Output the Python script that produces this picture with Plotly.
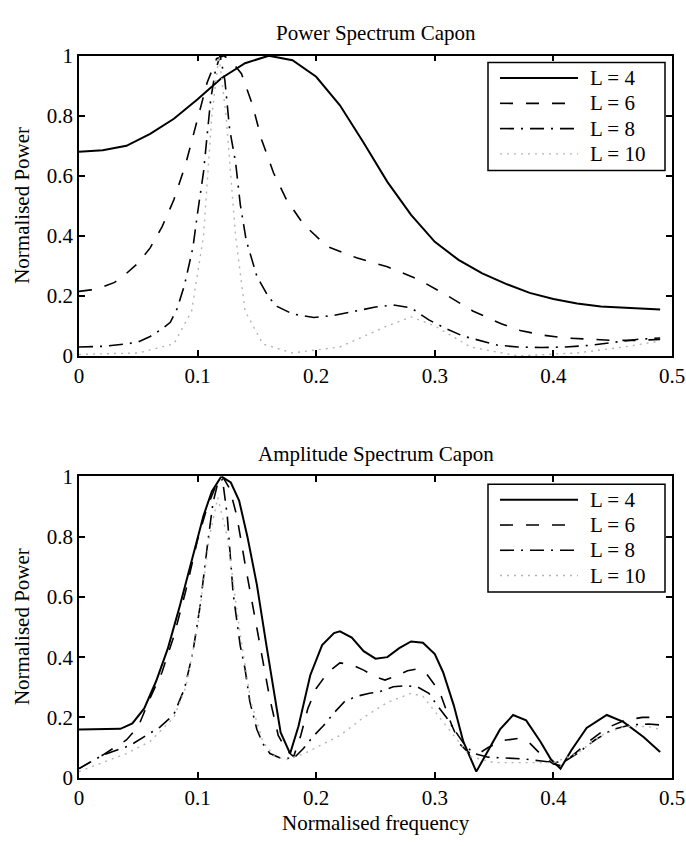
import plotly.graph_objects as go

# ---- data (normalised frequency vs normalised power) ----
# Power spectrum (top)
f_pow_l4 = [0, 0.02, 0.04, 0.06, 0.08, 0.10, 0.12, 0.14, 0.16, 0.18, 0.20, 0.22, 0.24,
            0.26, 0.28, 0.30, 0.32, 0.34, 0.36, 0.38, 0.40, 0.42, 0.44, 0.46, 0.49]
pow_l4 = [0.68, 0.685, 0.70, 0.74, 0.79, 0.855, 0.925, 0.975, 1.0, 0.985, 0.93, 0.835, 0.71,
          0.58, 0.47, 0.38, 0.32, 0.275, 0.24, 0.21, 0.19, 0.175, 0.165, 0.16, 0.155]

f_pow_l6 = [0, 0.01, 0.02, 0.03, 0.04, 0.05, 0.06, 0.07, 0.08, 0.09, 0.10, 0.108, 0.116,
            0.122, 0.128, 0.137, 0.146, 0.154, 0.164, 0.175, 0.189, 0.209, 0.234, 0.26,
            0.285, 0.309, 0.332, 0.356, 0.372, 0.39, 0.41, 0.43, 0.45, 0.47, 0.49]
pow_l6 = [0.215, 0.22, 0.23, 0.245, 0.275, 0.31, 0.36, 0.43, 0.52, 0.64, 0.79, 0.91, 0.99,
          1.0, 0.985, 0.94, 0.84, 0.72, 0.61, 0.52, 0.44, 0.365, 0.327, 0.297,
          0.257, 0.205, 0.15, 0.107, 0.085, 0.07, 0.06, 0.055, 0.052, 0.052, 0.055]

f_pow_l8 = [0, 0.02, 0.04, 0.05, 0.06, 0.07, 0.077, 0.083, 0.089, 0.096, 0.10, 0.105, 0.108,
            0.111, 0.115, 0.119, 0.123, 0.127, 0.132, 0.136, 0.141, 0.15, 0.16, 0.167, 0.18,
            0.198, 0.215, 0.234, 0.25, 0.265, 0.28, 0.295, 0.31, 0.324, 0.34, 0.353, 0.37,
            0.39, 0.41, 0.43, 0.45, 0.47, 0.49]
pow_l8 = [0.03, 0.032, 0.04, 0.047, 0.065, 0.09, 0.112, 0.16, 0.237, 0.36, 0.477, 0.613, 0.733,
          0.853, 0.95, 1.0, 0.918, 0.755, 0.646, 0.504, 0.385, 0.265, 0.195, 0.165, 0.14,
          0.128, 0.135, 0.15, 0.163, 0.17, 0.16, 0.12, 0.09, 0.066, 0.048, 0.036, 0.03,
          0.028, 0.03, 0.035, 0.045, 0.055, 0.06]

f_pow_l10 = [0, 0.05, 0.08, 0.095, 0.105, 0.112, 0.118, 0.124, 0.132, 0.14, 0.155, 0.18,
             0.22, 0.26, 0.28, 0.30, 0.33, 0.37, 0.42, 0.46, 0.49]
pow_l10 = [0.005, 0.01, 0.04, 0.15, 0.4, 0.8, 1.0, 0.8, 0.4, 0.15, 0.04, 0.01,
           0.03, 0.1, 0.13, 0.1, 0.03, 0.0, 0.01, 0.03, 0.05]

# Amplitude spectrum (bottom)
f_amp_l4 = [0, 0.02, 0.035, 0.045, 0.055, 0.065, 0.075, 0.085, 0.095, 0.105, 0.112, 0.12,
            0.128, 0.135, 0.142, 0.15, 0.158, 0.165, 0.17, 0.178, 0.185, 0.195, 0.205, 0.215,
            0.22, 0.23, 0.24, 0.25, 0.26, 0.27, 0.28, 0.29, 0.30, 0.307, 0.316, 0.324, 0.335,
            0.345, 0.355, 0.366, 0.377, 0.389, 0.398, 0.406, 0.415, 0.428, 0.445, 0.459,
            0.476, 0.49]
amp_l4 = [0.16, 0.16, 0.162, 0.18, 0.23, 0.32, 0.43, 0.57, 0.72, 0.87, 0.95, 1.0,
          0.98, 0.92, 0.8, 0.64, 0.44, 0.27, 0.15, 0.08, 0.17, 0.34, 0.44, 0.48,
          0.486, 0.465, 0.42, 0.395, 0.40, 0.43, 0.452, 0.448, 0.41, 0.35, 0.24, 0.12, 0.02,
          0.09, 0.16, 0.208, 0.19, 0.12, 0.06, 0.03, 0.09, 0.165, 0.208, 0.185,
          0.135, 0.085]

f_amp_l6 = [0, 0.02, 0.04, 0.05, 0.06, 0.07, 0.08, 0.09, 0.10, 0.108, 0.115, 0.121, 0.127,
            0.133, 0.14, 0.147, 0.154, 0.161, 0.168, 0.175, 0.181, 0.187, 0.193, 0.2, 0.21,
            0.22, 0.23, 0.24, 0.25, 0.258, 0.267, 0.277, 0.285, 0.293, 0.304, 0.314, 0.321,
            0.328, 0.335, 0.345, 0.357, 0.37, 0.38, 0.39, 0.40, 0.406, 0.415, 0.43, 0.445,
            0.46, 0.475, 0.49]
amp_l6 = [0.03, 0.075, 0.125, 0.17, 0.265, 0.35, 0.47, 0.62, 0.79, 0.897, 0.965, 1.0, 0.96,
          0.87, 0.71, 0.556, 0.416, 0.26, 0.14, 0.09, 0.07, 0.14, 0.23, 0.296, 0.35,
          0.381, 0.375, 0.357, 0.335, 0.324, 0.337, 0.355, 0.361, 0.345, 0.286, 0.177, 0.112,
          0.085, 0.075, 0.1, 0.123, 0.13, 0.115, 0.075, 0.045, 0.04, 0.07, 0.12, 0.165,
          0.19, 0.2, 0.2]

f_amp_l8 = [0, 0.02, 0.043, 0.054, 0.068, 0.08, 0.089, 0.096, 0.102, 0.109, 0.113, 0.117,
            0.121, 0.125, 0.13, 0.136, 0.14, 0.144, 0.15, 0.155, 0.161, 0.17, 0.181, 0.189,
            0.197, 0.206, 0.215, 0.224, 0.234, 0.245, 0.254, 0.265, 0.275, 0.285, 0.295,
            0.302, 0.31, 0.317, 0.325, 0.333, 0.345, 0.36, 0.375, 0.39, 0.40, 0.41, 0.42,
            0.435, 0.45, 0.465, 0.48, 0.49]
amp_l8 = [0.03, 0.075, 0.107, 0.134, 0.167, 0.21, 0.296, 0.416, 0.567, 0.794, 0.913, 0.978,
          0.99, 0.87, 0.61, 0.437, 0.361, 0.253, 0.16, 0.113, 0.08, 0.065, 0.064, 0.096,
          0.135, 0.172, 0.215, 0.253, 0.27, 0.28, 0.286, 0.302, 0.305, 0.302, 0.28,
          0.24, 0.199, 0.156, 0.11, 0.08, 0.068, 0.065, 0.062, 0.055, 0.05, 0.055, 0.08,
          0.125, 0.16, 0.175, 0.178, 0.175]

f_amp_l10 = [0, 0.02, 0.04, 0.06, 0.08, 0.09, 0.10, 0.11, 0.117, 0.125, 0.135, 0.145, 0.155,
             0.165, 0.175, 0.19, 0.20, 0.22, 0.24, 0.26, 0.28, 0.29, 0.30, 0.31, 0.32, 0.33,
             0.35, 0.37, 0.40, 0.42, 0.44, 0.46, 0.48, 0.49]
amp_l10 = [0.02, 0.05, 0.08, 0.12, 0.2, 0.3, 0.5, 0.8, 0.93, 0.8, 0.5, 0.25, 0.12,
           0.07, 0.06, 0.08, 0.1, 0.14, 0.2, 0.25, 0.28, 0.27, 0.22, 0.17, 0.12, 0.07,
           0.05, 0.05, 0.05, 0.08, 0.14, 0.17, 0.17, 0.16]

labels = ["L = 4", "L = 6", "L = 8", "L = 10"]

W, H = 686, 846
L_M, R_M = 79, 14
FONT = "Liberation Serif, Times New Roman, serif"

styles = [
    dict(color="black", width=2, dash="solid"),
    dict(color="black", width=1.6, dash="13px,13px"),
    dict(color="black", width=1.6, dash="14px,7px,2px,7px"),
    dict(color="#b4b4b4", width=1.4, dash="2px,5px"),
]

def px_x(p):
    return (p - L_M) / (W - L_M - R_M)

def px_y(p):
    return (H - p) / H

fig = go.Figure()

top = [(f_pow_l4, pow_l4), (f_pow_l6, pow_l6), (f_pow_l8, pow_l8), (f_pow_l10, pow_l10)]
bot = [(f_amp_l4, amp_l4), (f_amp_l6, amp_l6), (f_amp_l8, amp_l8), (f_amp_l10, amp_l10)]

for i, (fx, fy) in enumerate(top):
    fig.add_trace(go.Scatter(x=fx, y=fy, mode="lines", line=styles[i], name=labels[i],
                             showlegend=False, xaxis="x", yaxis="y"))
for i, (fx, fy) in enumerate(bot):
    fig.add_trace(go.Scatter(x=fx, y=fy, mode="lines", line=styles[i], name=labels[i],
                             showlegend=False, xaxis="x2", yaxis="y2"))

axis_common = dict(showline=True, linecolor="black", linewidth=1.5, mirror="ticks",
                   ticks="inside", ticklen=6, tickwidth=1.5, tickcolor="black",
                   showgrid=False, zeroline=False,
                   tickfont=dict(family=FONT, size=21, color="black"))

# pixel rows of the two axes boxes
TOP_Y = (45, 354)
BOT_Y = (478, 788)

fig.update_layout(
    width=W, height=H,
    margin=dict(l=L_M, r=R_M, t=0, b=0),
    paper_bgcolor="white", plot_bgcolor="white",
    font=dict(family=FONT, size=21, color="black"),
    xaxis=dict(domain=[0, 1], range=[0, 0.5], dtick=0.1, anchor="y", **axis_common),
    yaxis=dict(domain=[px_y(TOP_Y[1]), px_y(TOP_Y[0])], range=[0, 1], dtick=0.2,
               anchor="x", **axis_common),
    xaxis2=dict(domain=[0, 1], range=[0, 0.5], dtick=0.1, anchor="y2", **axis_common),
    yaxis2=dict(domain=[px_y(BOT_Y[1]), px_y(BOT_Y[0])], range=[0, 1], dtick=0.2,
                anchor="x2", **axis_common),
)

# titles
ann = [
    dict(text="Power Spectrum Capon", x=0.5, y=px_y(22)),
    dict(text="Amplitude Spectrum Capon", x=0.5, y=px_y(455)),
    dict(text="Normalised frequency", x=0.5, y=px_y(835)),
    dict(text="Normalised Power", x=px_x(22), y=px_y(sum(TOP_Y) / 2), textangle=-90),
    dict(text="Normalised Power", x=px_x(22), y=px_y(sum(BOT_Y) / 2), textangle=-90),
]
for a in ann:
    fig.add_annotation(xref="paper", yref="paper", showarrow=False,
                       xanchor="center", yanchor="middle",
                       font=dict(family=FONT, size=21, color="black"), **a)

# legend boxes drawn like the MATLAB ones
for box_top in (TOP_Y[0] + 7, BOT_Y[0] + 8):
    fig.add_shape(type="rect", xref="paper", yref="paper",
                  x0=px_x(488), x1=px_x(665), y0=px_y(box_top + 111), y1=px_y(box_top),
                  line=dict(color="black", width=1.5), fillcolor="white", layer="above")
    for i in range(4):
        yy = px_y(box_top + 16 + 26 * i)
        fig.add_shape(type="line", xref="paper", yref="paper",
                      x0=px_x(500), x1=px_x(578), y0=yy, y1=yy,
                      line=styles[i], layer="above")
        fig.add_annotation(xref="paper", yref="paper", x=px_x(588), y=yy,
                           text=labels[i], showarrow=False, xanchor="left", yanchor="middle",
                           font=dict(family=FONT, size=21, color="black"))

# page body has a default 8px margin; drop it so the figure sits at the window corner
fig.write_html("out.html", config={"displayModeBar": False},
               post_script="document.body.style.margin='0';")
